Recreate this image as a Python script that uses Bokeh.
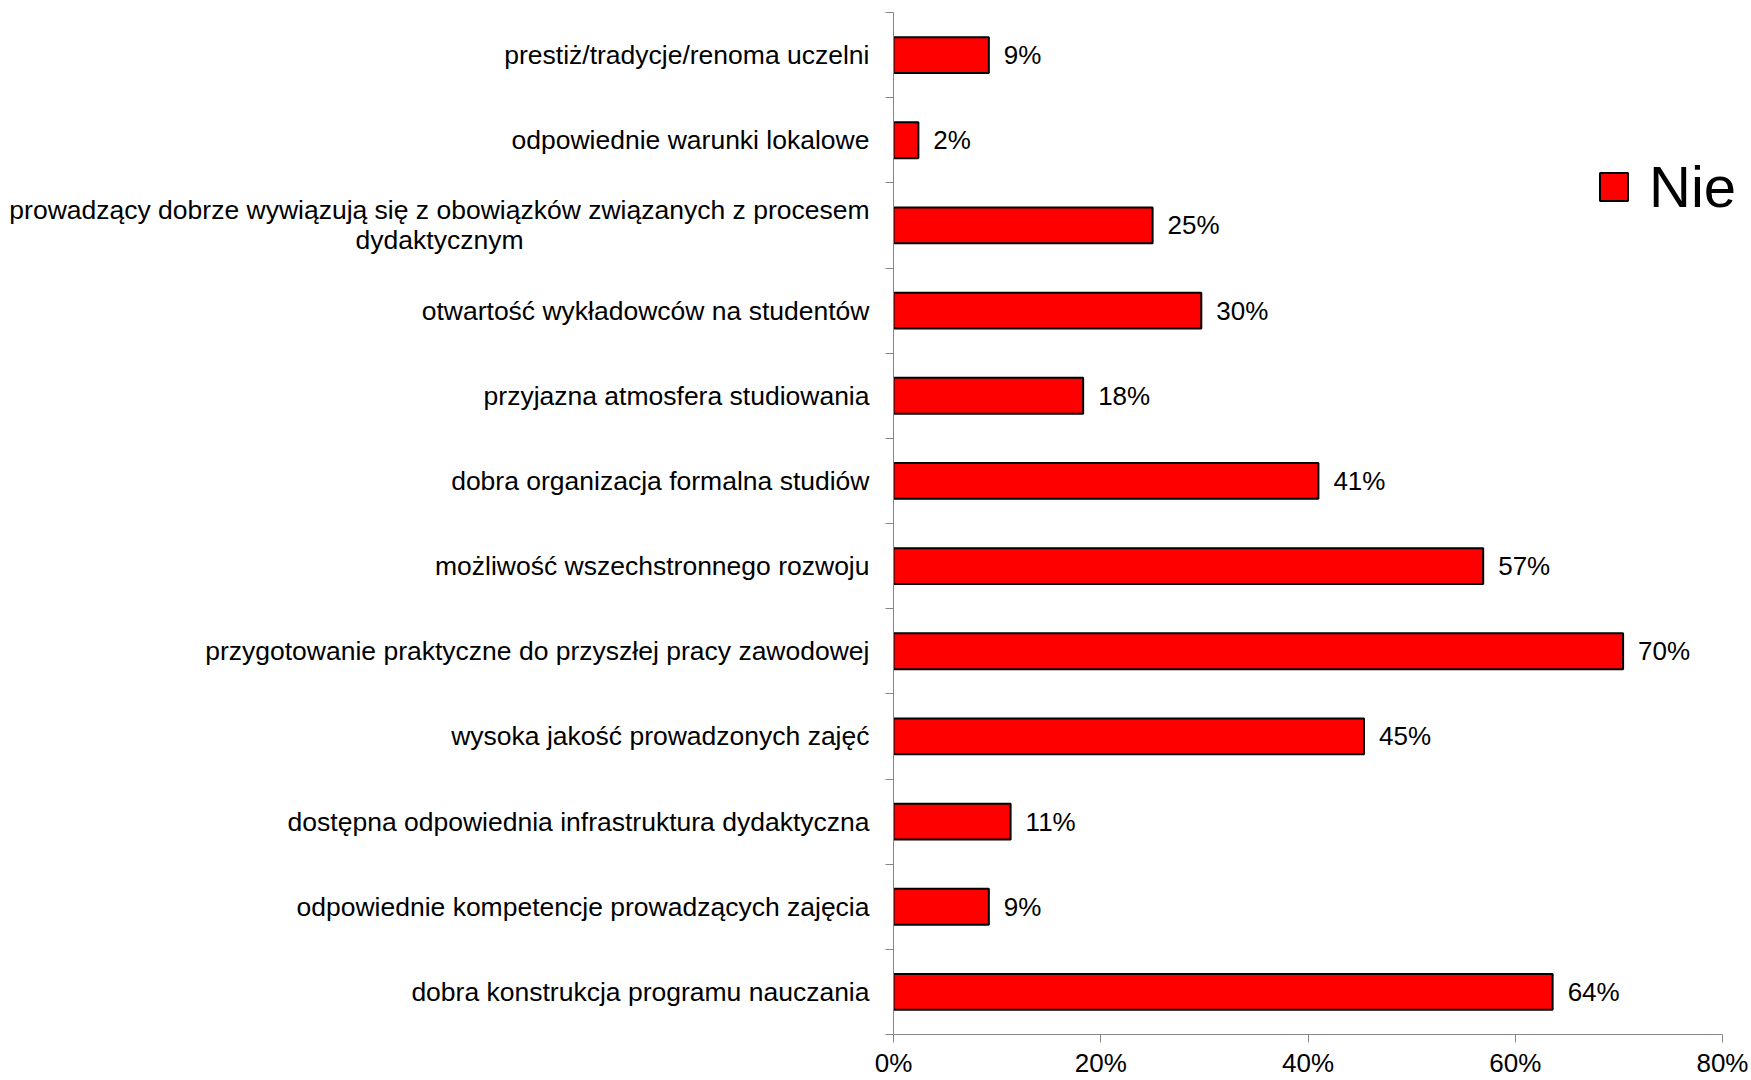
from bokeh.plotting import figure
from bokeh.models import (Range1d, FixedTicker, NumeralTickFormatter, ColumnDataSource,
                          Legend, LegendItem)
from bokeh.core.properties import value
from bokeh.embed import file_html
from bokeh.resources import INLINE

NBSP = "\u00a0"
# categories from top to bottom
categories = [
    "prestiż/tradycje/renoma uczelni",
    "odpowiednie warunki lokalowe",
    "prowadzący dobrze wywiązują się z obowiązków związanych z procesem\ndydaktycznym" + NBSP * 47,
    "otwartość wykładowców na studentów",
    "przyjazna atmosfera studiowania",
    "dobra organizacja formalna studiów",
    "możliwość wszechstronnego rozwoju",
    "przygotowanie praktyczne do przyszłej pracy zawodowej",
    "wysoka jakość prowadzonych zajęć",
    "dostępna odpowiednia infrastruktura dydaktyczna",
    "odpowiednie kompetencje prowadzących zajęcia",
    "dobra konstrukcja programu nauczania",
]
nie_values = [9.2, 2.4, 25.0, 29.7, 18.3, 41.0, 56.9, 70.4, 45.4, 11.3, 9.2, 63.6]
x_ticks = [0, 0.2, 0.4, 0.6, 0.8]
series_name = "Nie"

FONT = "Liberation Sans"
AXIS_COLOR = "#868686"

n = len(categories)
ypos = [n - 0.5 - i for i in range(n)]
src = ColumnDataSource(dict(
    y=ypos,
    v=[v / 100 for v in nie_values],
    lbl=[f"{round(v)}%" for v in nie_values],
))

p = figure(width=1748, height=1080, output_backend="svg", toolbar_location=None,
           x_range=Range1d(0, 0.825), y_range=Range1d(0, n),
           min_border_left=893, min_border_right=0, min_border_top=12, min_border_bottom=44)
p.outline_line_color = None
p.xgrid.visible = False
p.ygrid.visible = False
p.background_fill_color = "white"
p.border_fill_color = "white"

bars = p.hbar(y="y", right="v", left=0, height=0.42, source=src,
              fill_color="#ff0000", line_color="black", line_width=2)
p.text(x="v", y="y", text="lbl", source=src, x_offset=15, text_baseline="middle",
       text_align="left", text_font=value(FONT), text_font_size="26px", text_color="black")

# x axis
xa = p.xaxis[0]
xa.ticker = FixedTicker(ticks=x_ticks, minor_ticks=[])
xa.bounds = (0, 0.8)
xa.formatter = NumeralTickFormatter(format="0%")
xa.axis_line_color = AXIS_COLOR
xa.major_tick_line_color = AXIS_COLOR
xa.major_tick_out = 8
xa.major_tick_in = 0
xa.minor_tick_line_color = None
xa.major_label_text_font = FONT
xa.major_label_text_font_size = "26px"
xa.major_label_text_color = "black"
xa.major_label_standoff = 5

# y axis: labels at centres, ticks at boundaries
ya = p.yaxis[0]
ya.ticker = FixedTicker(ticks=ypos, minor_ticks=list(range(n + 1)))
ya.major_label_overrides = {y: c for y, c in zip(ypos, categories)}
ya.axis_line_color = AXIS_COLOR
ya.major_tick_line_color = None
ya.major_tick_out = 0
ya.major_tick_in = 0
ya.minor_tick_line_color = AXIS_COLOR
ya.minor_tick_out = 8
ya.minor_tick_in = 0
ya.major_label_text_font = FONT
ya.major_label_text_font_size = "26.5px"
ya.major_label_text_color = "black"
ya.major_label_text_line_height = 1.0
ya.major_label_standoff = 16

legend = Legend(items=[LegendItem(label=series_name, renderers=[bars])],
                location=(703, 814), padding=0, margin=0,
                glyph_width=35, glyph_height=35, label_standoff=18,
                label_text_font=FONT, label_text_font_size="58px",
                label_text_color="black",
                border_line_color=None, background_fill_alpha=0)
p.add_layout(legend)

open("out.html", "w").write(file_html(p, INLINE))
